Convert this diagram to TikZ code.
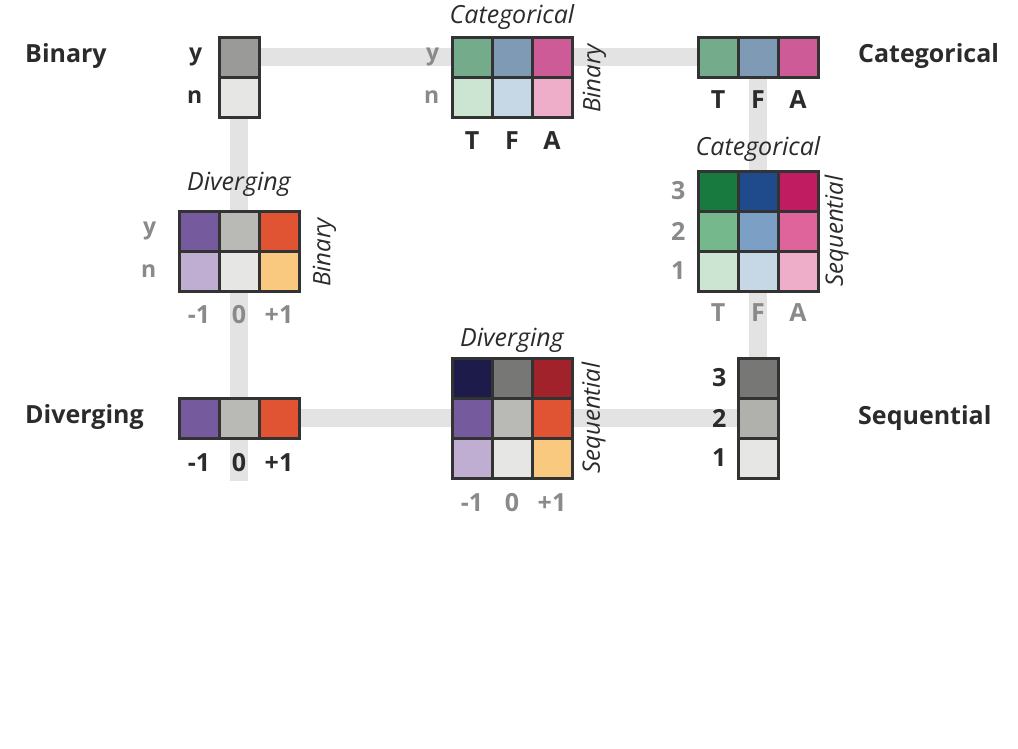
\documentclass[tikz,border=0pt]{standalone}
\usepackage{fontspec}
\setmainfont{Open Sans}
\usetikzlibrary{positioning,backgrounds}

\definecolor{cellline}{HTML}{333333}
\definecolor{bargray}{HTML}{E3E3E3}
\definecolor{labdark}{HTML}{2B2B2B}
\definecolor{labgray}{HTML}{8A8A8A}
% binary / sequential grays
\definecolor{grayD}{HTML}{777776}
\definecolor{grayM}{HTML}{9A9A98}
\definecolor{grayS}{HTML}{B0B0AD}
\definecolor{grayL}{HTML}{E6E6E4}
% categorical hues
\definecolor{catT}{HTML}{74AB8A}
\definecolor{catF}{HTML}{7F9AB5}
\definecolor{catA}{HTML}{CD5B98}
\definecolor{catTm}{HTML}{74B88C}
\definecolor{catFm}{HTML}{7C9FC5}
\definecolor{catAm}{HTML}{E0649C}
\definecolor{catTl}{HTML}{CCE5D2}
\definecolor{catFl}{HTML}{C6D8E5}
\definecolor{catAl}{HTML}{EEADC8}
\definecolor{catTd}{HTML}{187A3E}
\definecolor{catFd}{HTML}{1F4A8C}
\definecolor{catAd}{HTML}{C01C62}
% diverging hues
\definecolor{divM}{HTML}{765A9E}
\definecolor{divZ}{HTML}{B9B9B6}
\definecolor{divP}{HTML}{E05434}
\definecolor{divMl}{HTML}{BFAED2}
\definecolor{divPl}{HTML}{F8C97E}
\definecolor{divMd}{HTML}{1C1B4A}
\definecolor{divPd}{HTML}{A2222B}

\tikzset{
  cell/.style={draw=cellline, line width=3pt, minimum size=40pt, inner sep=0pt},
  bar/.style={draw=bargray, line width=18pt},
  mainlab/.style={font=\bfseries\fontsize{25}{29}\selectfont, text=labdark, inner sep=0pt},
  title/.style={font=\itshape\fontsize{25}{29}\selectfont, text=labdark, inner sep=0pt},
  sidelab/.style={font=\itshape\fontsize{24}{28}\selectfont, text=labdark, inner sep=0pt, rotate=90},
  rowlab/.style={font=\bfseries\fontsize{23}{27}\selectfont, inner sep=0pt},
  collab/.style={font=\bfseries\fontsize{25}{29}\selectfont, inner sep=0pt}
}

\begin{document}
\begin{tikzpicture}[x=1pt, y=-1pt, node distance=40pt]
        \useasboundingbox (0,0) rectangle (1018,748);

        % Binary
        \node[mainlab, anchor=west] (binlab) at (25,56) {Binary};
        \node[cell, fill=grayM] (binY) at (239,57) {};
        \node[cell, fill=grayL, below of=binY] (binN) {};
        \node[rowlab, text=labdark, left=15pt of binY] (binYlab) {y};
        \node[rowlab, text=labdark, left=15pt of binN] (binNlab) {n};

        % Categorical x Binary
        \node[cell, fill=catT] (cbYT) at (472,57) {};
        \node[cell, fill=catF, right of=cbYT] (cbYF) {};
        \node[cell, fill=catA, right of=cbYF] (cbYA) {};
        \node[cell, fill=catTl, below of=cbYT] (cbNT) {};
        \node[cell, fill=catFl, right of=cbNT] (cbNF) {};
        \node[cell, fill=catAl, right of=cbNF] (cbNA) {};
        \node[title, above=6pt of cbYF] (cbtitle) {Categorical};
        \node[sidelab, anchor=north] (cbside) at ([xshift=9pt]cbYA.south east) {Binary};
        \node[rowlab, text=labgray, left=11pt of cbYT] (cbYlab) {y};
        \node[rowlab, text=labgray, left=11pt of cbNT] (cbNlab) {n};
        \node[collab, text=labdark, below=13pt of cbNT] (cbTlab) {T};
        \node[collab, text=labdark, below=13pt of cbNF] (cbFlab) {F};
        \node[collab, text=labdark, below=13pt of cbNA] (cbAlab) {A};

        % Categorical
        \node[mainlab, anchor=west] (catlab) at (858,56) {Categorical};
        \node[cell, fill=catT] (catT) at (718,57) {};
        \node[cell, fill=catF, right of=catT] (catF) {};
        \node[cell, fill=catA, right of=catF] (catA) {};
        \node[collab, text=labdark, below=12pt of catT] (catTlab) {T};
        \node[collab, text=labdark, below=12pt of catF] (catFlab) {F};
        \node[collab, text=labdark, below=12pt of catA] (catAlab) {A};

        % Diverging x Binary
        \node[cell, fill=divM] (dbYm) at (199,231) {};
        \node[cell, fill=divZ, right of=dbYm] (dbYz) {};
        \node[cell, fill=divP, right of=dbYz] (dbYp) {};
        \node[cell, fill=divMl, below of=dbYm] (dbNm) {};
        \node[cell, fill=grayL, right of=dbNm] (dbNz) {};
        \node[cell, fill=divPl, right of=dbNz] (dbNp) {};
        \node[title, above=13pt of dbYz] (dbtitle) {Diverging};
        \node[sidelab, anchor=north] (dbside) at ([xshift=12pt]dbYp.south east) {Binary};
        \node[rowlab, text=labgray, left=21pt of dbYm] (dbYlab) {y};
        \node[rowlab, text=labgray, left=21pt of dbNm] (dbNlab) {n};
        \node[collab, text=labgray, below=13pt of dbNm] (dbmlab) {-1};
        \node[collab, text=labgray, below=13pt of dbNz] (dbzlab) {0};
        \node[collab, text=labgray, below=13pt of dbNp] (dbplab) {+1};

        % Categorical x Sequential
        \node[cell, fill=catTd] (cs3T) at (718,191) {};
        \node[cell, fill=catFd, right of=cs3T] (cs3F) {};
        \node[cell, fill=catAd, right of=cs3F] (cs3A) {};
        \node[cell, fill=catTm, below of=cs3T] (cs2T) {};
        \node[cell, fill=catFm, right of=cs2T] (cs2F) {};
        \node[cell, fill=catAm, right of=cs2F] (cs2A) {};
        \node[cell, fill=catTl, below of=cs2T] (cs1T) {};
        \node[cell, fill=catFl, right of=cs1T] (cs1F) {};
        \node[cell, fill=catAl, right of=cs1F] (cs1A) {};
        \node[title, above=8pt of cs3F] (cstitle) {Categorical};
        \node[sidelab, anchor=north] (csside) at ([xshift=5pt]cs2A.east) {Sequential};
        \node[collab, text=labgray, left=11pt of cs3T] (cs3lab) {3};
        \node[collab, text=labgray, left=11pt of cs2T] (cs2lab) {2};
        \node[collab, text=labgray, left=11pt of cs1T] (cs1lab) {1};
        \node[collab, text=labgray, below=11pt of cs1T] (csTlab) {T};
        \node[collab, text=labgray, below=11pt of cs1F] (csFlab) {F};
        \node[collab, text=labgray, below=11pt of cs1A] (csAlab) {A};

        % Diverging
        \node[mainlab, anchor=west] (divlab) at (25,417) {Diverging};
        \node[cell, fill=divM] (divm) at (199,418) {};
        \node[cell, fill=divZ, right of=divm] (divz) {};
        \node[cell, fill=divP, right of=divz] (divp) {};
        \node[collab, text=labdark, below=14pt of divm] (divmlab) {-1};
        \node[collab, text=labdark, below=14pt of divz] (divzlab) {0};
        \node[collab, text=labdark, below=14pt of divp] (divplab) {+1};

        % Diverging x Sequential
        \node[cell, fill=divMd] (ds3m) at (472,378) {};
        \node[cell, fill=grayD, right of=ds3m] (ds3z) {};
        \node[cell, fill=divPd, right of=ds3z] (ds3p) {};
        \node[cell, fill=divM, below of=ds3m] (ds2m) {};
        \node[cell, fill=divZ, right of=ds2m] (ds2z) {};
        \node[cell, fill=divP, right of=ds2z] (ds2p) {};
        \node[cell, fill=divMl, below of=ds2m] (ds1m) {};
        \node[cell, fill=grayL, right of=ds1m] (ds1z) {};
        \node[cell, fill=divPl, right of=ds1z] (ds1p) {};
        \node[title, above=4pt of ds3z] (dstitle) {Diverging};
        \node[sidelab, anchor=north] (dsside) at ([xshift=8pt]ds2p.east) {Sequential};
        \node[collab, text=labgray, below=14pt of ds1m] (dsmlab) {-1};
        \node[collab, text=labgray, below=14pt of ds1z] (dszlab) {0};
        \node[collab, text=labgray, below=14pt of ds1p] (dsplab) {+1};

        % Sequential
        \node[mainlab, anchor=west] (seqlab) at (858,418) {Sequential};
        \node[cell, fill=grayD] (seq3) at (758,378) {};
        \node[cell, fill=grayS, below of=seq3] (seq2) {};
        \node[cell, fill=grayL, below of=seq2] (seq1) {};
        \node[collab, text=labdark, left=10pt of seq3] (seq3lab) {3};
        \node[collab, text=labdark, left=10pt of seq2] (seq2lab) {2};
        \node[collab, text=labdark, left=10pt of seq1] (seq1lab) {1};

        % Connecting bars
        \coordinate (leftend) at (239,481);
        \begin{scope}[on background layer]
            \draw[bar] (binY.east) -- (catT.west);
            \draw[bar] (binN.south) -- (leftend);
            \draw[bar] (catF.south) -- (seq3.north);
            \draw[bar] (divp.east) -- (seq2.west);
        \end{scope}
    \end{tikzpicture}
\end{document}
